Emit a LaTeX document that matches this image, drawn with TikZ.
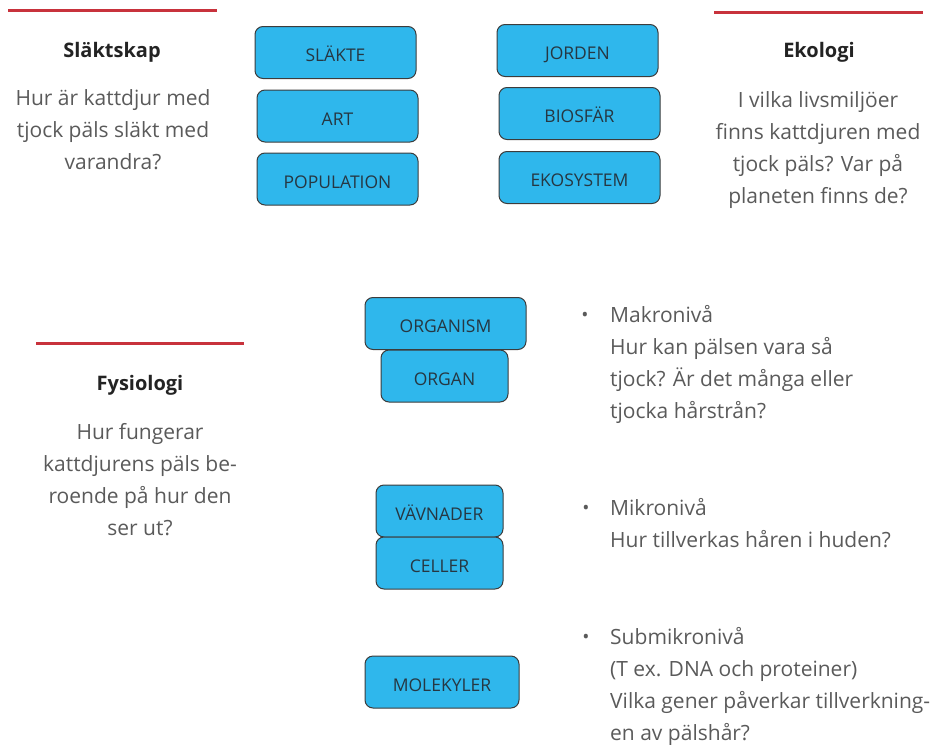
\documentclass[tikz,border=0pt]{standalone}
\usepackage{fontspec}
\setmainfont{Open Sans}
\usepackage{tikz}
\tikzset{>=latex}
\definecolor{myblue}{RGB}{47, 183, 236}
\definecolor{myred}{RGB}{200, 50, 60}
\definecolor{mygray1}{RGB}{60, 60, 60}
\definecolor{mygray2}{RGB}{90, 90, 90}
\definecolor{mydark}{RGB}{35, 35, 35}
\definecolor{myboxtext}{RGB}{38, 55, 66}
\newcommand{\bodyfont}{\fontsize{21}{32}\selectfont}
\newcommand{\titlefont}{\fontsize{20}{24}\selectfont\bfseries}
\newcommand{\boxfont}{\fontsize{17.5}{20}\selectfont}
\tikzset{
  levelbox/.style = {draw = mygray1, fill = myblue, rounded corners = 8pt, line width = 1pt,
    inner sep = 0pt, minimum height = 52pt, text = myboxtext, font = \boxfont,
    text height = 18pt, text depth = 0pt},
  redrule/.style = {myred, line width = 3pt},
  heading/.style = {anchor = base, text = mydark, font = \titlefont, inner sep = 0pt},
  bodytext/.style = {anchor = north, align = center, text = mygray2, font = \bodyfont,
    inner sep = 0pt, execute at begin node = \strut},
  bulletdot/.style = {text = mygray2, font = \fontsize{19}{19}\selectfont, inner sep = 0pt}
}

\begin{document}
\begin{tikzpicture}[x = 1pt, y = -1pt]
\useasboundingbox (0, 0) rectangle (934, 744);

% Slaktskap
\begin{scope}
\draw[redrule] (8, 10) -- (217, 10);
\node[heading] (slaktskap) at (112, 57) {Släktskap};
\node[bodytext] (slaktskaptext) at (113, 89) {Hur är kattdjur med\\tjock päls släkt med\\varandra?};
\node[levelbox, minimum width = 161pt] (slakte) at (335.5, 52.5) {SLÄKTE};
\node[levelbox, minimum width = 161pt] (art) at (337.5, 116) {ART};
\node[levelbox, minimum width = 161pt] (population) at (337.5, 179) {POPULATION};
\end{scope}

% Ekologi
\begin{scope}
\draw[redrule] (714, 12) -- (923, 12);
\node[heading] (ekologi) at (819, 57) {Ekologi};
\node[bodytext] (ekologitext) at (818, 91) {I vilka livsmiljöer\\finns kattdjuren med\\tjock päls? Var på\\planeten finns de?};
\node[levelbox, minimum width = 161pt] (jorden) at (577.5, 50.5) {JORDEN};
\node[levelbox, minimum width = 161pt] (biosfar) at (579.5, 113.5) {BIOSFÄR};
\node[levelbox, minimum width = 161pt] (ekosystem) at (579.5, 177.5) {EKOSYSTEM};
\end{scope}

% Fysiologi
\begin{scope}
\draw[redrule] (36, 343) -- (244, 343);
\node[heading] (fysiologi) at (140, 390) {Fysiologi};
\node[bodytext] (fysiologitext) at (140, 423.5) {Hur fungerar\\kattdjurens päls be-\\roende på hur den\\ser ut?};
\node[levelbox, minimum width = 161pt] (organism) at (445.5, 323.5) {ORGANISM};
\node[levelbox, minimum width = 127pt] (organ) at (444.5, 376) {ORGAN};
\node[levelbox, minimum width = 127pt] (vavnader) at (439.5, 511) {VÄVNADER};
\node[levelbox, minimum width = 127pt] (celler) at (439.5, 563) {CELLER};
\node[levelbox, minimum width = 154pt] (molekyler) at (442, 682) {MOLEKYLER};

\node[bulletdot] (makrodot) at (585, 317) {\textbullet};
\node[bodytext, anchor = north west, align = left] (makro) at (610, 305) {Makronivå\\Hur kan pälsen vara så\\tjock? Är det många eller\\tjocka hårstrån?};
\node[bulletdot] (mikrodot) at (586, 510) {\textbullet};
\node[bodytext, anchor = north west, align = left] (mikro) at (610, 498.5) {Mikronivå\\Hur tillverkas håren i huden?};
\node[bulletdot] (submikrodot) at (586, 639) {\textbullet};
\node[bodytext, anchor = north west, align = left] (submikro) at (610, 627) {Submikronivå\\(T ex. DNA och proteiner)\\Vilka gener påverkar tillverkning-\\en av pälshår?};
\end{scope}
\end{tikzpicture}
\end{document}
